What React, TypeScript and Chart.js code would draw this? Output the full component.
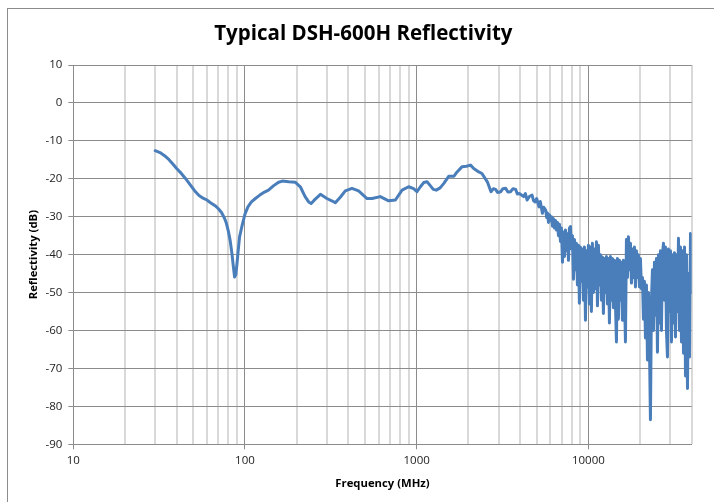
import { useEffect, useRef } from "react";
import { Chart, registerables } from "chart.js";

Chart.register(...registerables);

const TITLE = "Typical DSH-600H Reflectivity";
const X_TITLE = "Frequency (MHz)";
const Y_TITLE = "Reflectivity (dB)";

const X_MIN = 10;
const X_MAX = 40000;
const X_MAJOR_TICKS = [10, 100, 1000, 10000];
const X_MINOR_MULTIPLIERS = [2, 3, 4, 5, 6, 7, 8, 9];
const Y_MIN = -90;
const Y_MAX = 10;
const Y_STEP = 10;

// Smooth part of the sweep (MHz, dB)
const LOW_BAND_FREQ = [
  30, 32, 34, 36, 38, 40, 42, 45, 48, 51, 54, 57, 60, 63, 67, 70, 73, 76, 78, 80,
  82, 84, 85.5, 87, 88.5, 90, 91.5, 93, 96, 100, 104, 109, 115, 122, 130, 137, 147,
  157, 165, 180, 196, 210, 224, 235, 243, 255, 275, 300, 320, 336, 360, 384, 420,
  459, 514, 550, 614, 687, 752, 822, 898, 960, 1004, 1052, 1099, 1150, 1200, 1250,
  1300, 1370, 1440, 1540, 1650, 1720, 1840, 1950, 2060, 2150, 2300, 2400, 2580,
  2710, 2800, 2880, 2960, 3090, 3180, 3300, 3400, 3520, 3640, 3770, 3860, 3960,
  4080, 4200, 4300, 4400, 4550, 4700, 4800, 4900, 5000, 5160, 5250, 5400, 5500,
  5650, 5720,
];
const LOW_BAND_DB = [
  -12.6, -13.1, -13.9, -14.9, -16.1, -17.3, -18.3, -19.9, -21.6, -23.2, -24.4,
  -25.1, -25.6, -26.3, -27.1, -27.9, -28.9, -30.4, -31.8, -33.8, -36.3, -39.8,
  -43.0, -45.9, -45.2, -42.0, -38.5, -35.3, -32.5, -29.3, -27.4, -26.1, -25.2,
  -24.3, -23.5, -23.0, -21.8, -20.9, -20.6, -20.8, -20.9, -22.1, -24.7, -26.1,
  -26.5, -25.5, -24.1, -25.2, -25.8, -26.3, -24.8, -23.2, -22.5, -23.2, -25.2,
  -25.2, -24.7, -25.8, -25.6, -23.0, -22.1, -22.6, -23.4, -22.1, -21.0, -20.8,
  -21.8, -22.8, -23.0, -22.4, -21.2, -19.3, -19.3, -18.2, -16.8, -16.7, -16.4,
  -17.3, -18.2, -18.6, -20.8, -23.4, -22.6, -22.8, -23.6, -23.4, -22.6, -22.5,
  -23.5, -23.4, -22.6, -22.8, -24.0, -23.9, -24.3, -24.7, -23.9, -25.6, -24.6,
  -24.3, -25.8, -26.1, -25.2, -27.4, -26.0, -29.1, -27.5, -28.3, -30.2,
];

// Noisy part of the sweep (MHz, dB)
const HIGH_BAND_FREQ = [
  5780, 5860, 5940, 6020, 6100, 6180, 6270, 6350, 6440, 6520, 6610, 6700, 6790,
  6880, 6970, 7070, 7160, 7260, 7360, 7460, 7560, 7660, 7760, 7870, 7970, 8080,
  8190, 8300, 8410, 8520, 8640, 8760, 8870, 8990, 9110, 9240, 9360, 9490, 9620,
  9750, 9880, 10010, 10150, 10280, 10420, 10560, 10710, 10850, 11000, 11150, 11300,
  11450, 11600, 11760, 11920, 12080, 12240, 12410, 12580, 12750, 12920, 13090,
  13270, 13450, 13630, 13810, 14000, 14190, 14380, 14580, 14770, 14970, 15180,
  15380, 15590, 15800, 16010, 16230, 16450, 16670, 16900, 17120, 17360, 17590,
  17830, 18070, 18310, 18560, 18810, 19060, 19320, 19580, 19850, 20110, 20390,
  20660, 20940, 21220, 21510, 21800, 22100, 22400, 22700, 23000, 23310, 23630,
  23950, 24270, 24600, 24930, 25270, 25610, 25960, 26310, 26660, 27020, 27390,
  27760, 28130, 28510, 28900, 29290, 29690, 30090, 30500, 30910, 31330, 31750,
  32180, 32610, 33050, 33500, 33950, 34410, 34880, 35350, 35830, 36310, 36800,
  37300, 37800, 38310, 38830, 39360, 39890, 40000,
];
const HIGH_BAND_DB = [
  -29.0, -31.5, -29.5, -31.0, -30.0, -32.5, -30.5, -33.0, -31.0, -33.5, -31.5,
  -35.0, -32.0, -36.5, -33.0, -42.0, -34.0, -40.5, -33.5, -39.0, -34.5, -41.5,
  -33.0, -32.6, -38.5, -35.0, -46.5, -36.0, -44.0, -37.0, -48.0, -37.5, -52.8,
  -38.0, -47.0, -38.5, -52.0, -38.0, -57.3, -39.0, -48.5, -37.5, -53.0, -38.0,
  -55.0, -37.0, -50.0, -38.5, -49.0, -36.6, -53.5, -37.5, -48.0, -40.0, -52.0,
  -40.6, -55.5, -41.0, -50.0, -40.5, -53.0, -41.0, -58.0, -40.5, -52.0, -41.0,
  -54.0, -41.5, -52.5, -63.0, -41.0, -57.0, -41.5, -52.0, -42.0, -57.3, -41.5,
  -50.0, -63.0, -36.0, -46.0, -35.3, -44.0, -37.0, -47.5, -38.5, -46.0, -38.0,
  -48.5, -39.0, -46.0, -40.0, -48.5, -41.0, -49.0, -46.0, -57.0, -47.0, -62.0,
  -48.0, -67.8, -50.0, -64.0, -83.5, -52.0, -44.0, -60.0, -42.0, -56.0, -41.0,
  -65.7, -40.0, -58.0, -39.0, -60.0, -40.0, -37.0, -52.0, -38.0, -60.0, -67.0,
  -38.5, -55.0, -39.0, -63.0, -40.0, -58.0, -39.5, -61.7, -40.0, -55.0, -35.7,
  -60.0, -38.0, -63.0, -39.0, -66.0, -38.0, -72.0, -40.0, -75.3, -45.0, -67.0,
  -34.4, -50.0, -35.5,
];

const X_TICK_VALUES: number[] = [];
X_MAJOR_TICKS.forEach((m) => {
  X_TICK_VALUES.push(m);
  X_MINOR_MULTIPLIERS.forEach((k) => {
    if (m * k <= X_MAX) X_TICK_VALUES.push(m * k);
  });
});

const MAJOR_GRID = "#8c8c8c";
const MINOR_GRID = "#d9d9d9";

export default function App() {
  const canvasRef = useRef<HTMLCanvasElement | null>(null);

  useEffect(() => {
    if (!canvasRef.current) return;
    Chart.defaults.font.family = "'Open Sans', sans-serif";

    const points = [
      ...LOW_BAND_FREQ.map((f, i) => ({ x: f, y: LOW_BAND_DB[i] })),
      ...HIGH_BAND_FREQ.map((f, i) => ({ x: f, y: HIGH_BAND_DB[i] })),
    ];

    const isMajor = (v: number) => X_MAJOR_TICKS.includes(v);

    const chart = new Chart(canvasRef.current, {
      type: "scatter",
      data: {
        datasets: [
          {
            data: points,
            showLine: true,
            borderColor: "#4A7EBB",
            backgroundColor: "#4A7EBB",
            borderWidth: 3,
            pointRadius: 0,
            pointHoverRadius: 0,
            tension: 0,
            borderJoinStyle: "round",
            borderCapStyle: "round",
          } as any,
        ],
      },
      options: {
        responsive: false,
        animation: false,
        layout: { padding: { left: 27, right: 22.3, top: 0, bottom: 0 } },
        plugins: {
          legend: { display: false },
          tooltip: { enabled: false },
          title: {
            display: true,
            text: TITLE,
            color: "#000",
            font: { size: 20.5, weight: "bold", lineHeight: 1.2 },
            padding: { top: 12.5, bottom: 18.9 },
          },
        },
        scales: {
          x: {
            type: "logarithmic",
            min: X_MIN,
            max: X_MAX,
            afterBuildTicks: (scale: any) => {
              scale.ticks = X_TICK_VALUES.map((v) => ({ value: v, major: isMajor(v) }));
            },
            afterFit: (scale: any) => {
              scale.height = 57.7;
            },
            ticks: {
              autoSkip: false,
              maxRotation: 0,
              minRotation: 0,
              padding: 5,
              color: "#222",
              font: { size: 11.5 },
              callback: (v: any) => (isMajor(Number(v)) ? String(v) : ""),
            },
            grid: {
              color: (ctx: any) => (ctx.tick && isMajor(ctx.tick.value) ? MAJOR_GRID : MINOR_GRID),
              lineWidth: (ctx: any) => (ctx.tick && isMajor(ctx.tick.value) ? 1 : 2),
              tickColor: (ctx: any) =>
                ctx.tick && isMajor(ctx.tick.value) ? MAJOR_GRID : "rgba(0,0,0,0)",
              tickLength: 5,
            },
            border: { color: MAJOR_GRID, width: 1 },
            title: {
              display: true,
              text: X_TITLE,
              color: "#000",
              font: { size: 11.3, weight: "bold", lineHeight: 1.2 },
              padding: { top: 0, bottom: 11.2 },
            },
          },
          y: {
            type: "linear",
            min: Y_MIN,
            max: Y_MAX,
            afterFit: (scale: any) => {
              scale.width = 38.3;
            },
            ticks: {
              stepSize: Y_STEP,
              padding: 6,
              color: "#222",
              font: { size: 11.5 },
            },
            grid: { color: MAJOR_GRID, lineWidth: 1, tickColor: MAJOR_GRID, tickLength: 5 },
            border: { color: MAJOR_GRID, width: 1 },
            title: {
              display: true,
              text: Y_TITLE,
              color: "#000",
              font: { size: 11.3, weight: "bold", lineHeight: 1.2 },
              padding: { top: -8.3, bottom: 0 },
            },
          },
        },
      } as any,
    });

    return () => chart.destroy();
  }, []);

  return (
    <div
      style={{
        position: "absolute",
        left: 7,
        top: 8,
        width: 706,
        height: 493,
        borderLeft: "1px solid #8c8c8c",
        borderTop: "1px solid #8c8c8c",
        background: "#fff",
      }}
    >
      <canvas ref={canvasRef} width={706} height={493} style={{ display: "block" }} />
    </div>
  );
}
